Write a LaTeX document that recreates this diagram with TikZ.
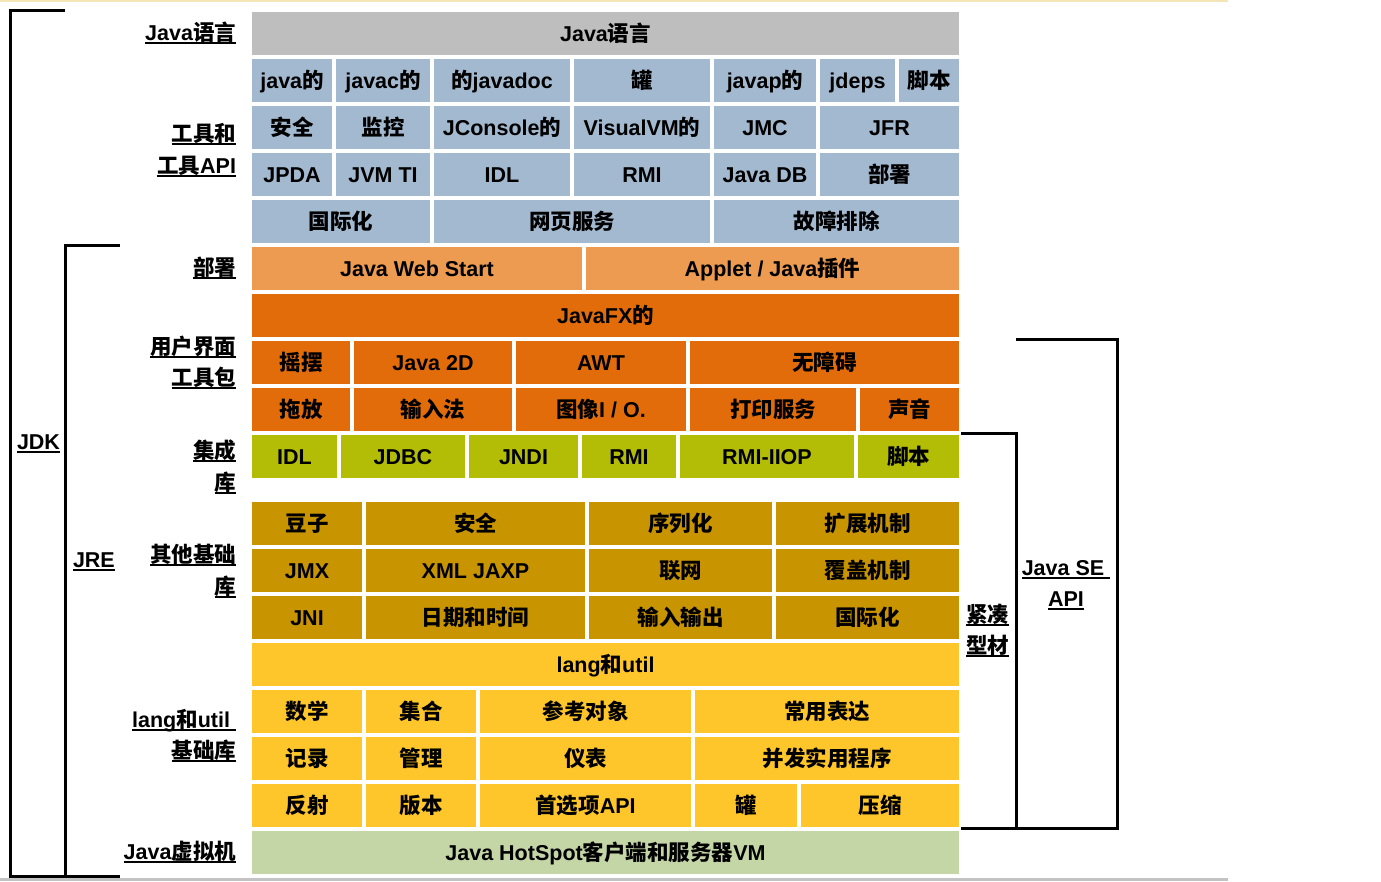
\documentclass[tikz,border=0pt]{standalone}
\usepackage{fontspec}
\setmainfont{Liberation Sans}
\newfontfamily\cjk{Noto Sans CJK SC}
\newcommand\C[1]{{\cjk #1}}
\newsavebox\ulbox
\newcommand\ul[1]{\sbox\ulbox{#1}\rlap{\rule[-3.6pt]{\wd\ulbox}{2pt}}\usebox\ulbox}
\definecolor{cgray}{HTML}{BEBEBE}
\definecolor{cblue}{HTML}{A3B9CF}
\definecolor{cdeploy}{HTML}{EC9B50}
\definecolor{cui}{HTML}{E36C0A}
\definecolor{cinteg}{HTML}{B3BD05}
\definecolor{cother}{HTML}{C89400}
\definecolor{clang}{HTML}{FEC62A}
\definecolor{cvm}{HTML}{C4D5A6}
\definecolor{ctop}{HTML}{F3E5B6}
\definecolor{cbot}{HTML}{C3C3C3}
\tikzset{
  cellbox/.style={inner sep=0pt, outer sep=0pt, minimum height=43pt, text height=19pt, text depth=4pt,
    font=\fontsize{21.5}{25}\selectfont\bfseries, text=black},
  lbl/.style={inner sep=0pt, outer sep=0pt, text height=19pt, text depth=4pt,
    font=\fontsize{21.5}{25}\selectfont\bfseries, text=black},
  bracket/.style={line width=3pt, draw=black}
}
% name, x1, x2, top, color, text
\newcommand\cell[6]{\node[cellbox,fill=#5,minimum width={(#3-#2)*1pt}] (#1) at ({(#2+#3)/2},{#4+21.5}) {#6};}
\begin{document}
\begin{tikzpicture}[x=1pt,y=-1pt]
\useasboundingbox (0,0) rectangle (1381,881);
\fill[white] (0,0) rectangle (1381,881);
\fill[ctop] (0,0) rectangle (1228,1.6);
\fill[cbot] (0,878.4) rectangle (1228,881);
% Row 1
\cell{jlang}{252}{959}{12}{cgray}{Java\C{语言}}
% Row 2
\cell{java}{252}{332}{59}{cblue}{java\C{的}}
\cell{javac}{336}{430}{59}{cblue}{javac\C{的}}
\cell{javadoc}{434}{570}{59}{cblue}{\C{的}javadoc}
\cell{jar}{574}{710}{59}{cblue}{\C{罐}}
\cell{javap}{714}{816}{59}{cblue}{javap\C{的}}
\cell{jdeps}{820}{895}{59}{cblue}{jdeps}
\cell{script}{899}{959}{59}{cblue}{\C{脚本}}
% Row 3
\cell{sec}{252}{332}{106}{cblue}{\C{安全}}
\cell{mon}{336}{430}{106}{cblue}{\C{监控}}
\cell{jcon}{434}{570}{106}{cblue}{JConsole\C{的}}
\cell{vvm}{574}{710}{106}{cblue}{VisualVM\C{的}}
\cell{jmc}{714}{816}{106}{cblue}{JMC}
\cell{jfr}{820}{959}{106}{cblue}{JFR}
% Row 4
\cell{jpda}{252}{332}{153}{cblue}{JPDA}
\cell{jvmti}{336}{430}{153}{cblue}{JVM TI}
\cell{idl}{434}{570}{153}{cblue}{IDL}
\cell{rmi}{574}{710}{153}{cblue}{RMI}
\cell{jdb}{714}{816}{153}{cblue}{Java DB}
\cell{dep}{820}{959}{153}{cblue}{\C{部署}}
% Row 5
\cell{intl}{252}{430}{200}{cblue}{\C{国际化}}
\cell{ws}{434}{710}{200}{cblue}{\C{网页服务}}
\cell{trbl}{714}{959}{200}{cblue}{\C{故障排除}}
% Row 6
\cell{jws}{252}{582}{247}{cdeploy}{Java Web Start}
\cell{applet}{586}{959}{247}{cdeploy}{Applet / Java\C{插件}}
% Row 7
\cell{jfx}{252}{959}{294}{cui}{JavaFX\C{的}}
% Row 8
\cell{swing}{252}{350}{341}{cui}{\C{摇摆}}
\cell{j2d}{354}{512}{341}{cui}{Java 2D}
\cell{awt}{516}{686}{341}{cui}{AWT}
\cell{acc}{690}{959}{341}{cui}{\C{无障碍}}
% Row 9
\cell{dnd}{252}{350}{388}{cui}{\C{拖放}}
\cell{im}{354}{512}{388}{cui}{\C{输入法}}
\cell{imgio}{516}{686}{388}{cui}{\C{图像}I / O.}
\cell{print}{690}{856}{388}{cui}{\C{打印服务}}
\cell{sound}{860}{959}{388}{cui}{\C{声音}}
% Row 10
\cell{idl2}{252}{337}{435}{cinteg}{IDL}
\cell{jdbc}{341}{465}{435}{cinteg}{JDBC}
\cell{jndi}{469}{578}{435}{cinteg}{JNDI}
\cell{rmi2}{582}{676}{435}{cinteg}{RMI}
\cell{iiop}{680}{854}{435}{cinteg}{RMI-IIOP}
\cell{script2}{858}{959}{435}{cinteg}{\C{脚本}}
% Row 11
\cell{beans}{252}{362}{502}{cother}{\C{豆子}}
\cell{sec2}{366}{585}{502}{cother}{\C{安全}}
\cell{ser}{589}{772}{502}{cother}{\C{序列化}}
\cell{ext}{776}{959}{502}{cother}{\C{扩展机制}}
% Row 12
\cell{jmx}{252}{362}{549}{cother}{JMX}
\cell{xml}{366}{585}{549}{cother}{XML JAXP}
\cell{net}{589}{772}{549}{cother}{\C{联网}}
\cell{ovr}{776}{959}{549}{cother}{\C{覆盖机制}}
% Row 13
\cell{jni}{252}{362}{596}{cother}{JNI}
\cell{date}{366}{585}{596}{cother}{\C{日期和时间}}
\cell{io}{589}{772}{596}{cother}{\C{输入输出}}
\cell{intl2}{776}{959}{596}{cother}{\C{国际化}}
% Row 14
\cell{langutil}{252}{959}{643}{clang}{lang\C{和}util}
% Row 15
\cell{math}{252}{362}{690}{clang}{\C{数学}}
\cell{coll}{366}{476}{690}{clang}{\C{集合}}
\cell{ref}{480}{691}{690}{clang}{\C{参考对象}}
\cell{regex}{695}{959}{690}{clang}{\C{常用表达}}
% Row 16
\cell{log}{252}{362}{737}{clang}{\C{记录}}
\cell{mgmt}{366}{476}{737}{clang}{\C{管理}}
\cell{instr}{480}{691}{737}{clang}{\C{仪表}}
\cell{conc}{695}{959}{737}{clang}{\C{并发实用程序}}
% Row 17
\cell{refl}{252}{362}{784}{clang}{\C{反射}}
\cell{ver}{366}{476}{784}{clang}{\C{版本}}
\cell{pref}{480}{691}{784}{clang}{\C{首选项}API}
\cell{jar2}{695}{797}{784}{clang}{\C{罐}}
\cell{zip}{801}{959}{784}{clang}{\C{压缩}}
% Row 18
\cell{vm}{252}{959}{831}{cvm}{Java HotSpot\C{客户端和服务器}VM}
% Left labels
\node[lbl,anchor=east] (lJava) at (236,33) {\ul{Java\C{语言}}};
\node[lbl,anchor=east] (lTools1) at (236,134) {\ul{\C{工具和}}};
\node[lbl,anchor=east] (lTools2) at (236,166) {\ul{\C{工具}API}};
\node[lbl,anchor=east] (lDep) at (236,268) {\ul{\C{部署}}};
\node[lbl,anchor=east] (lUI1) at (236,347) {\ul{\C{用户界面}}};
\node[lbl,anchor=east] (lUI2) at (236,378) {\ul{\C{工具包}}};
\node[lbl,anchor=east] (lInt1) at (236,451) {\ul{\C{集成}}};
\node[lbl,anchor=east] (lInt2) at (236,483) {\ul{\C{库}}};
\node[lbl,anchor=east] (lOth1) at (236,555) {\ul{\C{其他基础}}};
\node[lbl,anchor=east] (lOth2) at (236,587) {\ul{\C{库}}};
\node[lbl,anchor=east] (lLU1) at (236,720) {\ul{lang\C{和}util }};
\node[lbl,anchor=east] (lLU2) at (236,751) {\ul{\C{基础库}}};
\node[lbl,anchor=east] (lVM) at (236,852) {\ul{Java\C{虚拟机}}};
\node[lbl,anchor=west] (lJDK) at (17,442) {\ul{JDK}};
\node[lbl,anchor=west] (lJRE) at (73,560) {\ul{JRE}};
\node[lbl,anchor=west] (lCP1) at (966,615) {\ul{\C{紧凑}}};
\node[lbl,anchor=west] (lCP2) at (966,646) {\ul{\C{型材}}};
\node[lbl] (lSE1) at (1066,568) {\ul{Java SE }};
\node[lbl] (lSE2) at (1066,599) {\ul{API}};
% Brackets
\coordinate (jdkA) at (65,10.7);
\coordinate (jdkB) at (10,10.7);
\coordinate (jdkC) at (10,876.5);
\coordinate (jdkD) at (120,876.5);
\draw[bracket] (jdkA) -- (jdkB) -- (jdkC) -- (jdkD);
\coordinate (jreA) at (120,245.3);
\coordinate (jreB) at (65.5,245.3);
\coordinate (jreC) at (65.5,876.5);
\draw[bracket] (jreA) -- (jreB) -- (jreC);
\coordinate (cpA) at (961,433.5);
\coordinate (cpB) at (1016.7,433.5);
\coordinate (cpC) at (1016.7,828.3);
\draw[bracket] (cpA) -- (cpB) -- (cpC);
\coordinate (seA) at (1016,339.2);
\coordinate (seB) at (1117.3,339.2);
\coordinate (seC) at (1117.3,828.3);
\coordinate (seD) at (961,828.3);
\draw[bracket] (seA) -- (seB) -- (seC) -- (seD);
\end{tikzpicture}
\end{document}
